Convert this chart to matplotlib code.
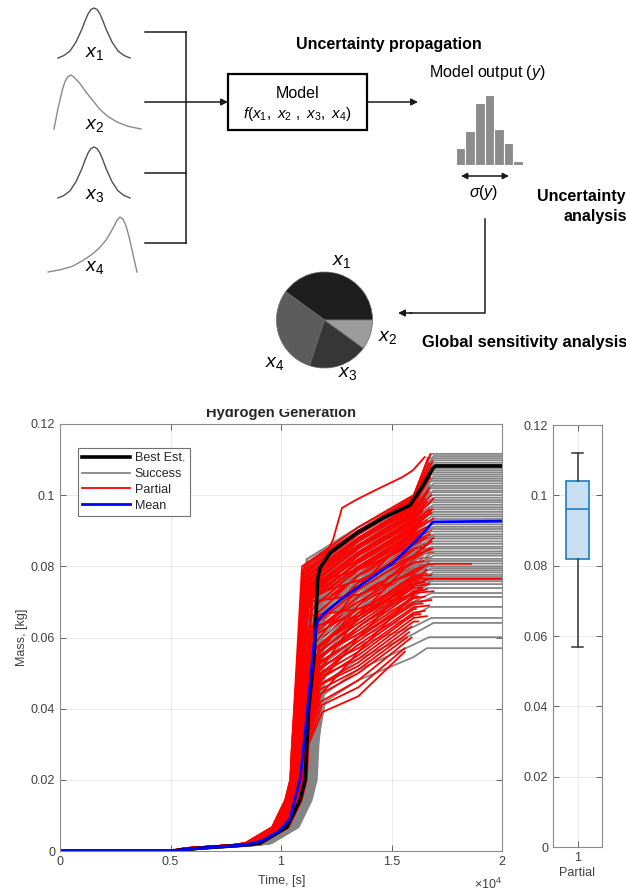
import matplotlib
matplotlib.use('Agg')
import matplotlib.pyplot as plt
from matplotlib.patches import Rectangle

plt.rcParams['font.family'] = ['Liberation Sans', 'DejaVu Sans']
plt.rcParams['mathtext.fontset'] = 'custom'
plt.rcParams['mathtext.rm'] = 'Liberation Sans'
plt.rcParams['mathtext.it'] = 'Liberation Sans:italic'
plt.rcParams['mathtext.bf'] = 'Liberation Sans:bold'

W, H = 626, 892

# ---- schematic input distributions (shape only, peak = 1)
pdf_sym_x = [-3, -2.5, -2, -1.5, -1, -0.75, -0.5, -0.25, 0, 0.25, 0.5, 0.75, 1, 1.5, 2, 2.5, 3]
pdf_sym_y = [0.0, 0.05, 0.14, 0.32, 0.58, 0.74, 0.88, 0.97, 1.0, 0.97, 0.88, 0.74, 0.58, 0.32, 0.14, 0.05, 0.0]
pdf_right_x = [0, 4, 8, 11, 14, 17, 20, 26, 33, 40, 46, 54, 63, 74, 87]
pdf_right_y = [0.0, 0.38, 0.70, 0.88, 0.97, 1.0, 0.96, 0.84, 0.66, 0.5, 0.36, 0.23, 0.13, 0.05, 0.0]
pdf_left_x = [0, 12, 24, 35, 44, 52, 58, 62, 66, 69, 72, 75, 78, 81, 84, 89]
pdf_left_y = [0.0, 0.04, 0.10, 0.21, 0.32, 0.45, 0.58, 0.70, 0.83, 0.94, 1.0, 0.96, 0.84, 0.64, 0.40, 0.0]

# model output histogram
hist_counts = [1, 12, 24, 44, 50, 26, 16, 3]

# sensitivity shares, counter-clockwise from 0 deg: x1, x4, x3, x2
pie_share = [40, 30, 20, 10]
pie_colors = ['#1e1e1e', '#5c5c5c', '#363636', '#9c9c9c']

# ---- hydrogen generation runs
x_ticks = [0, 5000, 10000, 15000, 20000]
x_ticklabels = ['0', '0.5', '1', '1.5', '2']
y_ticks = [0, 0.02, 0.04, 0.06, 0.08, 0.10, 0.12]
y_ticklabels = ['0', '0.02', '0.04', '0.06', '0.08', '0.1', '0.12']

best_t = [0, 5000, 6300, 8460, 9050, 10270, 10860, 11090, 11250, 11500, 11600, 11660, 11760,
          12220, 13440, 14620, 15840, 16380, 16880, 17000, 20000]
best_m = [0, 0, 0.0008, 0.0017, 0.0022, 0.0067, 0.0143, 0.020, 0.040, 0.055, 0.068, 0.0765, 0.0795,
          0.0838, 0.0894, 0.0936, 0.0972, 0.1023, 0.1076, 0.1082, 0.1082]

mean_t = [0, 5000, 6300, 8460, 9190, 9900, 10400, 10860, 11090, 11200, 11540, 11650, 11900,
          12670, 13000, 13950, 15070, 16150, 16880, 20000]
mean_m = [0, 0, 0.0008, 0.0017, 0.003, 0.0055, 0.009, 0.020, 0.033, 0.040, 0.061, 0.0645, 0.0665,
          0.0705, 0.072, 0.0762, 0.081, 0.0874, 0.0925, 0.0927]

# common early growth, offsets from the time a run passes 0.03 kg
onset_dt = [-4870, -2710, -2120, -900, -310, -80, 0]
onset_m = [0.0008, 0.0017, 0.0022, 0.0067, 0.0143, 0.020, 0.030]
T_A, T_B = 13500, 16000

# (t at 0.03 kg, knee time, knee mass, mass at T_A, mass at T_B, end time, final mass)
success_runs = [
    (11650, 12000, 0.042, 0.048, 0.0545, 16600, 0.0570),
    (11600, 11950, 0.044, 0.051, 0.0580, 16700, 0.0601),
    (11550, 11900, 0.047, 0.054, 0.0610, 16900, 0.0641),
    (11500, 11850, 0.050, 0.058, 0.0630, 16800, 0.0655),
    (11450, 11800, 0.052, 0.060, 0.0660, 16700, 0.0686),
    (11400, 11750, 0.055, 0.061, 0.0690, 16900, 0.0714),
    (11350, 11700, 0.057, 0.064, 0.0700, 16800, 0.0725),
    (11300, 11650, 0.058, 0.066, 0.0715, 16600, 0.0739),
    (11250, 11600, 0.060, 0.066, 0.0725, 16700, 0.0750),
    (11700, 12000, 0.050, 0.061, 0.0730, 16800, 0.0758),
    (11200, 11550, 0.061, 0.068, 0.0735, 16900, 0.0763),
    (11600, 11950, 0.053, 0.063, 0.0745, 16700, 0.0770),
    (11150, 11500, 0.063, 0.069, 0.0750, 16800, 0.0776),
    (11500, 11850, 0.055, 0.065, 0.0755, 16900, 0.0783),
    (11100, 11450, 0.064, 0.071, 0.0765, 16600, 0.0789),
    (11550, 11900, 0.057, 0.066, 0.0770, 16800, 0.0795),
    (11050, 11400, 0.066, 0.072, 0.0775, 16700, 0.0800),
    (11450, 11800, 0.058, 0.068, 0.0780, 16900, 0.0808),
    (11000, 11350, 0.067, 0.074, 0.0790, 16800, 0.0815),
    (11400, 11750, 0.060, 0.070, 0.0795, 16700, 0.0821),
    (10950, 11300, 0.068, 0.075, 0.0800, 16900, 0.0830),
    (11350, 11700, 0.062, 0.071, 0.0805, 16800, 0.0836),
    (11650, 11950, 0.059, 0.069, 0.0815, 16700, 0.0842),
    (11300, 11650, 0.064, 0.073, 0.0820, 16900, 0.0850),
    (10900, 11250, 0.070, 0.077, 0.0830, 16800, 0.0855),
    (11250, 11600, 0.066, 0.074, 0.0835, 16600, 0.0863),
    (11600, 11900, 0.063, 0.072, 0.0840, 16900, 0.0870),
    (11200, 11550, 0.068, 0.076, 0.0850, 16800, 0.0878),
    (11550, 11850, 0.065, 0.074, 0.0855, 16700, 0.0884),
    (11150, 11500, 0.070, 0.078, 0.0860, 16900, 0.0890),
    (11500, 11800, 0.067, 0.076, 0.0870, 16800, 0.0898),
    (11100, 11450, 0.071, 0.080, 0.0875, 16700, 0.0905),
    (11450, 11750, 0.069, 0.078, 0.0880, 16900, 0.0911),
    (11050, 11400, 0.072, 0.081, 0.0890, 16800, 0.0918),
    (11400, 11700, 0.070, 0.080, 0.0895, 16700, 0.0925),
    (11000, 11350, 0.073, 0.082, 0.0900, 16900, 0.0933),
    (11350, 11650, 0.071, 0.081, 0.0905, 16800, 0.0940),
    (11650, 11950, 0.068, 0.079, 0.0910, 16700, 0.0946),
    (11300, 11600, 0.073, 0.083, 0.0920, 16900, 0.0953),
    (10950, 11300, 0.075, 0.084, 0.0925, 16800, 0.0960),
    (11250, 11550, 0.074, 0.084, 0.0930, 16700, 0.0966),
    (11600, 11900, 0.071, 0.082, 0.0935, 16900, 0.0973),
    (11200, 11500, 0.075, 0.085, 0.0940, 16800, 0.0980),
    (11550, 11850, 0.073, 0.084, 0.0945, 16700, 0.0986),
    (11150, 11450, 0.076, 0.086, 0.0950, 16900, 0.0993),
    (11500, 11800, 0.074, 0.085, 0.0955, 16800, 0.1000),
    (11100, 11400, 0.077, 0.087, 0.0960, 16700, 0.1008),
    (11450, 11750, 0.075, 0.086, 0.0960, 16900, 0.1013),
    (11050, 11350, 0.078, 0.088, 0.0965, 16800, 0.1020),
    (11400, 11700, 0.076, 0.087, 0.0965, 16700, 0.1026),
    (11000, 11300, 0.078, 0.088, 0.0970, 16900, 0.1033),
    (11350, 11650, 0.077, 0.088, 0.0970, 16800, 0.1040),
    (11300, 11600, 0.078, 0.089, 0.0975, 16700, 0.1046),
    (10950, 11250, 0.079, 0.089, 0.0975, 16900, 0.1052),
    (11250, 11550, 0.078, 0.089, 0.0980, 16800, 0.1058),
    (11200, 11500, 0.079, 0.089, 0.0980, 16700, 0.1064),
    (11150, 11450, 0.079, 0.090, 0.0980, 16900, 0.1070),
    (11100, 11400, 0.080, 0.090, 0.0985, 16800, 0.1076),
    (11050, 11350, 0.080, 0.090, 0.0985, 16700, 0.1085),
    (11000, 11300, 0.080, 0.090, 0.0990, 16900, 0.1091),
    (10950, 11250, 0.081, 0.090, 0.0990, 16800, 0.1098),
    (10900, 11200, 0.081, 0.091, 0.0995, 16700, 0.1104),
    (10900, 11200, 0.082, 0.091, 0.0995, 16900, 0.1110),
    (10850, 11150, 0.082, 0.091, 0.1000, 16800, 0.1116),
]

# same columns; None where the run stops before T_B
partial_runs = [
    (10500, 10950, 0.080, 0.0910, 0.1000, 16750, 0.1115),
    (10550, 11000, 0.079, 0.0900, 0.0995, 16650, 0.1105),
    (10600, 11050, 0.080, 0.0900, 0.0990, 16700, 0.1090),
    (10650, 11100, 0.078, 0.0890, 0.0985, 16550, 0.1065),
    (10700, 11150, 0.079, 0.0890, 0.0985, 16800, 0.1075),
    (10750, 11200, 0.077, 0.0880, 0.0975, 16400, 0.1030),
    (10800, 11250, 0.078, 0.0880, 0.0970, 16600, 0.1045),
    (10850, 11300, 0.076, 0.0870, 0.0965, 16300, 0.1000),
    (10550, 11050, 0.077, 0.0870, 0.0960, 16700, 0.1020),
    (10600, 11100, 0.075, 0.0860, 0.0955, 16500, 0.0990),
    (10650, 11150, 0.076, 0.0860, 0.0950, 16800, 0.1000),
    (10700, 11200, 0.074, 0.0850, 0.0945, 16200, 0.0965),
    (10750, 11250, 0.075, 0.0850, 0.0940, 16600, 0.0980),
    (10800, 11300, 0.073, 0.0840, 0.0935, 16900, 0.0990),
    (10850, 11350, 0.074, 0.0840, 0.0930, 16400, 0.0955),
    (10900, 11400, 0.072, 0.0830, 0.0925, 16700, 0.0960),
    (10500, 11000, 0.073, 0.0830, 0.0920, 16500, 0.0945),
    (10550, 11050, 0.071, 0.0820, 0.0915, 16800, 0.0950),
    (10600, 11100, 0.072, 0.0820, 0.0910, 16300, 0.0925),
    (10650, 11150, 0.070, 0.0810, 0.0905, 16600, 0.0930),
    (10700, 11200, 0.071, 0.0810, 0.0900, 16900, 0.0935),
    (10750, 11250, 0.069, 0.0800, 0.0895, 16100, 0.0900),
    (10800, 11300, 0.070, 0.0800, 0.0890, 16700, 0.0910),
    (10850, 11350, 0.068, 0.0790, 0.0885, 16400, 0.0895),
    (10900, 11400, 0.069, 0.0790, 0.0880, 16800, 0.0900),
    (10950, 11450, 0.067, 0.0780, 0.0875, 16200, 0.0885),
    (11000, 11500, 0.068, 0.0780, 0.0870, 16600, 0.0880),
    (10600, 11150, 0.066, 0.0770, 0.0865, 16900, 0.0885),
    (10700, 11250, 0.067, 0.0770, 0.0860, 16300, 0.0865),
    (10800, 11350, 0.065, 0.0760, 0.0855, 16700, 0.0865),
    (10900, 11450, 0.066, 0.0760, 0.0850, 16500, 0.0855),
    (11000, 11550, 0.064, 0.0750, 0.0845, 16800, 0.0850),
    (11100, 11600, 0.065, 0.0750, 0.0840, 16200, 0.0845),
    (10550, 11150, 0.063, 0.0740, 0.0835, 16600, 0.0840),
    (10650, 11250, 0.064, 0.0740, 0.0830, 16900, 0.0840),
    (10750, 11350, 0.062, 0.0730, 0.0825, 16400, 0.0830),
    (10850, 11450, 0.063, 0.0730, 0.0820, 16700, 0.0825),
    (10950, 11550, 0.061, 0.0720, 0.0815, 16100, 0.0815),
    (11050, 11600, 0.062, 0.0720, 0.0810, 16800, 0.0815),
    (11150, 11650, 0.060, 0.0710, 0.0805, 16500, 0.0805),
    (10600, 11250, 0.061, 0.0710, 0.0800, 16900, 0.0805),
    (10700, 11350, 0.059, 0.0700, 0.0795, 16300, 0.0795),
    (10800, 11450, 0.060, 0.0690, 0.0790, 16700, 0.0790),
    (10900, 11550, 0.058, 0.0690, 0.0785, 16200, 0.0785),
    (11000, 11650, 0.059, 0.0680, 0.0780, 16600, 0.0780),
    (11100, 11700, 0.057, 0.0670, 0.0775, 16800, 0.0775),
    (11200, 11750, 0.058, 0.0670, 0.0770, 16400, 0.0770),
    (10650, 11400, 0.056, 0.0660, 0.0765, 16800, 0.0765),
    (10750, 11500, 0.057, 0.0650, 0.0760, 16100, 0.0760),
    (10850, 11600, 0.055, 0.0650, 0.0750, 16500, 0.0755),
    (10950, 11700, 0.056, 0.0640, 0.0745, 16700, 0.0750),
    (11050, 11750, 0.054, 0.0630, 0.0740, 16300, 0.0740),
    (11150, 11800, 0.055, 0.0630, 0.0730, 16600, 0.0735),
    (10700, 11400, 0.053, 0.0620, 0.0725, 16900, 0.0730),
    (10800, 11500, 0.054, 0.0610, 0.0715, 16200, 0.0715),
    (10900, 11600, 0.052, 0.0600, 0.0710, 16500, 0.0715),
    (11000, 11700, 0.053, 0.0600, 0.0700, 16800, 0.0705),
    (11100, 11750, 0.051, 0.0590, 0.0695, 16400, 0.0695),
    (11200, 11800, 0.050, 0.0580, 0.0685, 16700, 0.0690),
    (10750, 11500, 0.051, 0.0570, 0.0680, 16100, 0.0680),
    (10850, 11600, 0.049, 0.0560, 0.0670, 16500, 0.0675),
    (10950, 11700, 0.048, 0.0550, 0.0665, 16300, 0.0665),
    (11050, 11750, 0.049, 0.0540, 0.0655, 16600, 0.0660),
    (11150, 11800, 0.047, 0.0530, 0.0645, 16200, 0.0645),
    (10800, 11550, 0.046, 0.0520, None, 15900, 0.0630),
    (10900, 11650, 0.045, 0.0510, None, 15800, 0.0615),
    (11000, 11750, 0.044, 0.0500, None, 15700, 0.0600),
    (11100, 11800, 0.042, 0.0480, None, 15900, 0.0600),
    (11200, 11850, 0.041, 0.0460, None, 15600, 0.0570),
    (11250, 11860, 0.039, 0.0435, None, 15600, 0.0560),
    (10500, 11000, 0.078, 0.0895, 0.0985, 16850, 0.1095),
    (10650, 11150, 0.076, 0.0875, 0.0970, 16750, 0.1050),
    (10600, 11100, 0.074, 0.0855, 0.0950, 16650, 0.1010),
    (10700, 11200, 0.072, 0.0835, 0.0930, 16450, 0.0970),
    (10750, 11250, 0.070, 0.0815, 0.0910, 16850, 0.0960),
    (10900, 11400, 0.068, 0.0795, 0.0890, 16550, 0.0910),
    (10950, 11500, 0.066, 0.0775, 0.0870, 16750, 0.0890),
    (11050, 11550, 0.064, 0.0755, 0.0850, 16350, 0.0855),
    (10600, 11200, 0.062, 0.0735, 0.0830, 16850, 0.0850),
    (10700, 11300, 0.060, 0.0715, 0.0810, 16450, 0.0815),
    (10800, 11300, 0.075, 0.0790, 0.0860, 16600, 0.0880),
    (10900, 11500, 0.058, 0.0740, 0.0900, 16800, 0.0960),
    (10700, 11250, 0.070, 0.0720, 0.0780, 16500, 0.0800),
    (11000, 11650, 0.050, 0.0660, 0.0820, 16700, 0.0850),
    (10650, 11200, 0.066, 0.0680, 0.0720, 16300, 0.0740),
    (11100, 11700, 0.047, 0.0600, 0.0760, 16600, 0.0790),
    (10850, 11400, 0.072, 0.0760, 0.0830, 16900, 0.0880),
    (11150, 11800, 0.044, 0.0560, 0.0720, 16400, 0.0740),
    (10750, 11300, 0.063, 0.0660, 0.0750, 16200, 0.0760),
    (10950, 11600, 0.055, 0.0690, 0.0830, 16800, 0.0870),
]

# partial runs that hold their final mass for a while: same columns + stop time
partial_long = [
    (10800, 11350, 0.060, 0.0680, 0.0750, 16800, 0.0765, 20000),
    (10900, 11400, 0.062, 0.0700, 0.0790, 16700, 0.0807, 18600),
]
outlier_t = [12000, 12350, 12760, 13400, 14300, 15500, 15970, 16500]
outlier_m = [0.083, 0.0874, 0.0964, 0.0987, 0.1015, 0.1051, 0.107, 0.1107]

# boxplot of final mass
box_stats = dict(whislo=0.057, q1=0.082, med=0.096, q3=0.104, whishi=0.112)


def run_curve(t30, tk, mk, ma, mb, te, me, t_stop=None):
    t = [0, 5000] + [t30 + d for d in onset_dt] + [tk, T_A]
    m = [0, 0] + onset_m + [mk, ma]
    if mb is not None and te > T_B:
        t.append(T_B)
        m.append(mb)
    t.append(te)
    m.append(me)
    if t_stop is not None:
        t.append(t_stop)
        m.append(me)
    return t, m


def fbox(x0, y0, x1, y1):
    # pixel box (top-left origin) -> figure fraction rect
    return [x0 / W, 1 - y1 / H, (x1 - x0) / W, (y1 - y0) / H]


fig = plt.figure(figsize=(W / 100, H / 100), dpi=100)

# ================= diagram =================
dax = fig.add_axes([0, 0, 1, 1])
dax.set_xlim(0, W)
dax.set_ylim(H, 0)
dax.axis('off')

lc = '#1a1a1a'
for yy in [32, 102, 173, 243]:
    dax.plot([145, 186], [yy, yy], color=lc, lw=1.1)
dax.plot([186, 186], [32, 243], color=lc, lw=1.1)
arr = dict(arrowstyle='-|>', color=lc, lw=1.1, mutation_scale=10, shrinkA=0, shrinkB=0)
dax.annotate('', xy=(228, 102), xytext=(186, 102), arrowprops=arr)
dax.add_patch(Rectangle((228, 74), 139, 56, fill=False, ec='k', lw=1.6))
dax.annotate('', xy=(418, 102), xytext=(367, 102), arrowprops=arr)
dax.annotate('', xy=(509, 176), xytext=(461, 176),
             arrowprops=dict(arrowstyle='<|-|>', color=lc, lw=1.1, mutation_scale=9, shrinkA=0, shrinkB=0))
dax.plot([485, 485, 410], [219, 313, 313], color=lc, lw=1.1)
dax.annotate('', xy=(398, 313), xytext=(412, 313), arrowprops=arr)

fs = 11.5
dax.text(297.5, 94, 'Model', ha='center', va='center', fontsize=fs)
dax.text(297.5, 114, r'$\mathit{f(x_1,\ x_2\ ,\ x_3,\ x_4)}$', ha='center', va='center', fontsize=11)
dax.text(389, 45, 'Uncertainty propagation', ha='center', va='center', fontsize=fs, fontweight='bold')
dax.text(487, 73, r'Model output ($\mathit{y}$)', ha='center', va='center', fontsize=fs)
dax.text(484, 193, r'$\mathit{\sigma(y)}$', ha='center', va='center', fontsize=fs)
dax.text(537, 197, 'Uncertainty', ha='left', va='center', fontsize=fs, fontweight='bold')
dax.text(563, 216, 'analysis', ha='left', va='center', fontsize=fs, fontweight='bold')
dax.text(422, 343, 'Global sensitivity analysis', ha='left', va='center', fontsize=11.9, fontweight='bold')

xs = 14
for (px, py, s) in [(95, 53, '1'), (95, 125, '2'), (95, 196, '3'), (95, 267, '4')]:
    dax.text(px, py, r'$\mathit{x_%s}$' % s, ha='center', va='center', fontsize=xs)
for (px, py, s) in [(342, 261, '1'), (388, 338, '2'), (348, 373, '3'), (275, 363, '4')]:
    dax.text(px, py, r'$\mathit{x_%s}$' % s, ha='center', va='center', fontsize=xs)

# input pdfs
for box, xv, yv, c in [((58, 8, 130, 58), pdf_sym_x, pdf_sym_y, '#505050'),
                       ((54, 75, 141, 129), pdf_right_x, pdf_right_y, '#8a8a8a'),
                       ((58, 147, 130, 198), pdf_sym_x, pdf_sym_y, '#505050'),
                       ((48, 217, 137, 272), pdf_left_x, pdf_left_y, '#8a8a8a')]:
    pa = fig.add_axes(fbox(*box))
    pa.plot(xv, yv, color=c, lw=1.0, clip_on=False)
    pa.set_xlim(min(xv), max(xv))
    pa.set_ylim(0, 1)
    pa.axis('off')

# output histogram
hax = fig.add_axes(fbox(446, 95, 523, 165))
hax.bar(range(len(hist_counts)), hist_counts, width=1, align='edge',
        color='#8c8c8c', edgecolor='white', lw=0.8)
hax.set_xlim(0, len(hist_counts))
hax.set_ylim(0, 50)
hax.axis('off')

# sensitivity pie
pax = fig.add_axes(fbox(275.5, 271, 373.5, 369))
pax.pie(pie_share, colors=pie_colors, startangle=0, counterclock=True,
        wedgeprops=dict(edgecolor='#6a6a6a', linewidth=0.5))
pax.set_xlim(-1.02, 1.02)
pax.set_ylim(-1.02, 1.02)
pax.set_aspect('equal')

# ================= hydrogen generation =================
tick_c = '#404040'
spine_c = '#8a8a8a'
succ_c, part_c = '#858585', '#ff0000'


def style_axes(a):
    for sp in a.spines.values():
        sp.set_color(spine_c)
        sp.set_linewidth(0.8)
    a.tick_params(direction='in', top=True, right=True, length=4, width=0.7,
                  color='#606060', labelcolor=tick_c, labelsize=9)
    a.grid(True, color='#e6e6e6', lw=0.6)
    a.set_axisbelow(True)


ax = fig.add_axes(fbox(60, 424, 502, 851))
style_axes(ax)

# upper successes first, then half the partials, the lower successes, the rest
succ_hi = [r for r in success_runs if r[-1] >= 0.09]
succ_lo = [r for r in success_runs if r[-1] < 0.09]
for row in succ_hi:
    t, m = run_curve(*row, t_stop=20000)
    h_succ, = ax.plot(t, m, color=succ_c, lw=1.3)
for row in partial_runs[:45]:
    t, m = run_curve(*row)
    h_part, = ax.plot(t, m, color=part_c, lw=1.3)
for row in succ_lo:
    t, m = run_curve(*row, t_stop=20000)
    ax.plot(t, m, color=succ_c, lw=1.3)
for row in partial_runs[45:]:
    t, m = run_curve(*row)
    ax.plot(t, m, color=part_c, lw=1.3)
for row in partial_long:
    t, m = run_curve(*row)
    ax.plot(t, m, color=part_c, lw=1.3)
ax.plot(outlier_t, outlier_m, color=part_c, lw=1.3)
h_best, = ax.plot(best_t, best_m, color='k', lw=2.6)
h_mean, = ax.plot(mean_t, mean_m, color='#0000ff', lw=2.0)

ax.set_xlim(0, 20000)
ax.set_ylim(0, 0.12)
ax.set_xticks(x_ticks)
ax.set_xticklabels(x_ticklabels)
ax.set_yticks(y_ticks)
ax.set_yticklabels(y_ticklabels)
ax.set_title('Hydrogen Generation', fontsize=10.5, fontweight='bold', pad=5.0, color='#262626')
ax.set_xlabel('Time, [s]', fontsize=9, color=tick_c, va='center')
ax.xaxis.set_label_coords(0.502, -0.070)
ax.set_ylabel('Mass, [kg]', fontsize=9, color=tick_c, va='center')
ax.yaxis.set_label_coords(-0.086, 0.5)
ax.text(1.0, -0.078, r'$\times10^{4}$', transform=ax.transAxes, ha='right', va='center',
        fontsize=9, color=tick_c)

leg = ax.legend([h_best, h_succ, h_part, h_mean], ['Best Est.', 'Success', 'Partial', 'Mean'],
                loc='upper left', bbox_to_anchor=(0.0407, 0.9438), borderaxespad=0,
                fontsize=9, handlelength=3.8, handletextpad=0.4, labelspacing=0.3,
                borderpad=0.35, fancybox=False, framealpha=1, edgecolor='#707070')
leg.get_frame().set_linewidth(0.8)
for txt in leg.get_texts():
    txt.set_color('#262626')

# final mass boxplot
bax = fig.add_axes(fbox(553, 425, 602, 847))
style_axes(bax)
bax.bxp([box_stats], positions=[1], widths=0.47, capwidths=0.22, showfliers=False,
        patch_artist=True,
        boxprops=dict(facecolor='#c8e0f2', edgecolor='#2a87c8', lw=1.3),
        medianprops=dict(color='#2a87c8', lw=1.3),
        whiskerprops=dict(color='#333333', lw=1.1),
        capprops=dict(color='#333333', lw=1.1))
bax.set_xlim(0.5, 1.5)
bax.set_ylim(0, 0.12)
bax.set_xticks([1])
bax.set_xticklabels(['1'])
bax.set_yticks(y_ticks)
bax.set_yticklabels(y_ticklabels)
bax.set_xlabel('Partial', fontsize=9, color=tick_c, labelpad=2)

# trim the top of the panel title
fig.add_artist(Rectangle((0, 1 - 409.5 / H), 1, 14 / H, transform=fig.transFigure,
                         facecolor='white', edgecolor='none', zorder=10))

fig.savefig('out.png', dpi=100, facecolor='white')
